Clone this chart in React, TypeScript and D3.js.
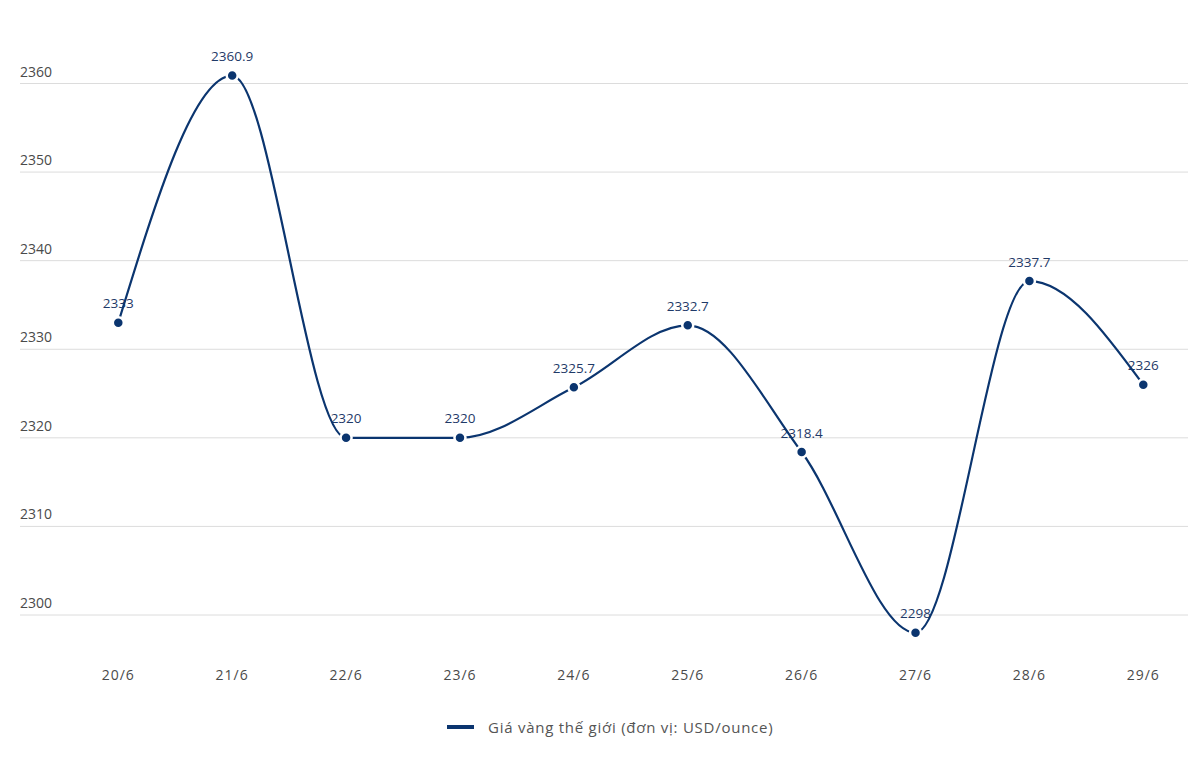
import React from "react";
import * as d3 from "d3";

const categories = ["20/6", "21/6", "22/6", "23/6", "24/6", "25/6", "26/6", "27/6", "28/6", "29/6"];
const values = [2333, 2360.9, 2320, 2320, 2325.7, 2332.7, 2318.4, 2298, 2337.7, 2326];
const yTicks = [2300, 2310, 2320, 2330, 2340, 2350, 2360];
const seriesName = "Giá vàng thế giới (đơn vị: USD/ounce)";

const W = 1188;
const H = 782;
const LINE = "#0b356f";
const LABEL = "#1f3a68";
const FONT = "'Open Sans', 'Noto Sans', sans-serif";

export default function App() {
  const x = d3.scalePoint<string>().domain(categories).range([118.3, 1143.3]);
  const y = d3.scaleLinear().domain([2300, 2360]).range([615, 83.5]);
  const line = d3
    .line<number>()
    .x((_, i) => x(categories[i]) as number)
    .y((d) => y(d))
    .curve(d3.curveMonotoneX);
  const path = line(values) || "";

  return (
    <svg width={W} height={H} style={{ position: "absolute", left: 0, top: 0, background: "#fff" }}>
      <g>
        {yTicks.map((t) => (
          <g key={t}>
            <line x1={20} x2={W} y1={y(t)} y2={y(t)} stroke="#dcdcdc" strokeWidth={1} />
            <text x={20} y={y(t) - 7} fontFamily={FONT} fontSize={14} fill="#4a4a4a">
              {t}
            </text>
          </g>
        ))}
      </g>
      <g>
        {categories.map((c) => (
          <text
            key={c}
            x={x(c) as number}
            y={680}
            textAnchor="middle"
            fontFamily={FONT}
            fontSize={14}
            letterSpacing={1}
            fill="#4a4a4a"
          >
            {c}
          </text>
        ))}
      </g>
      <g>
        {values.map((v, i) => (
          <text
            key={i}
            x={x(categories[i]) as number}
            y={y(v) - 14.5}
            textAnchor="middle"
            fontFamily={FONT}
            fontSize={13.5}
            fill={LABEL}
          >
            {String(v)}
          </text>
        ))}
      </g>
      <path d={path} fill="none" stroke={LINE} strokeWidth={2.2} />
      <g>
        {values.map((v, i) => (
          <circle
            key={i}
            cx={x(categories[i]) as number}
            cy={y(v)}
            r={5.5}
            fill={LINE}
            stroke="#fff"
            strokeWidth={2.5}
          />
        ))}
      </g>
      <g>
        <rect x={447} y={725} width={27} height={4} fill={LINE} />
        <text x={488} y={733} fontFamily={FONT} fontSize={15} letterSpacing={0.75} fill="#555">
          {seriesName}
        </text>
      </g>
    </svg>
  );
}
